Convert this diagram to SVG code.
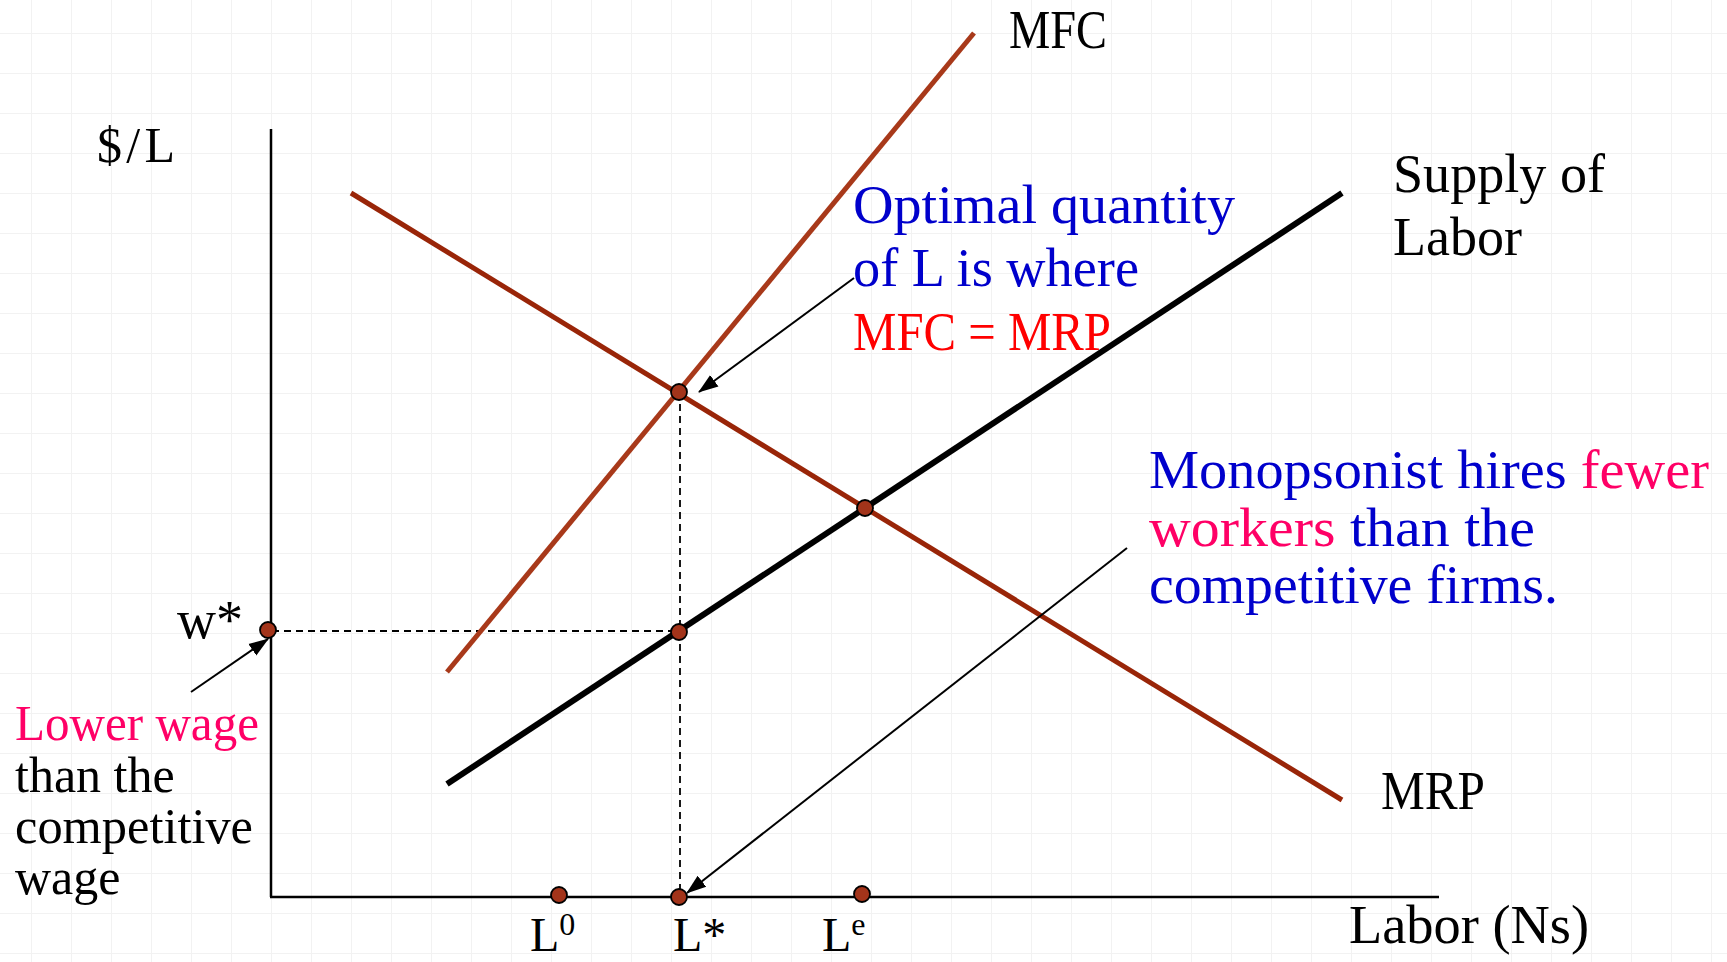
<svg xmlns="http://www.w3.org/2000/svg" width="1727" height="962" viewBox="0 0 1727 962">
  <defs>
    <pattern id="grid" patternUnits="userSpaceOnUse" x="31" y="33" width="40" height="40">
      <path d="M0 0H40M0 0V40" fill="none" stroke="#f2f2f2" stroke-width="2"/>
    </pattern>
    <marker id="arrow" markerUnits="userSpaceOnUse" markerWidth="20" markerHeight="16" viewBox="0 0 20 16" refX="19" refY="8" orient="auto">
      <path d="M0 1L20 8L0 15Z" fill="#000"/>
    </marker>
    <style>
      text { font-family: "Liberation Serif", "Times New Roman", serif; }
      .lbl { font-size: 54px; fill: #000; }
      .small { font-size: 50px; fill: #000; }
      .xl { font-size: 48px; fill: #000; }
      .sup { font-size: 32px; }
      .blue { fill: #0000cc; }
      .pink { fill: #ff0066; }
      .red { fill: #ff0000; }
      .axis { stroke: #000; stroke-width: 2.5; fill: none; }
      .mfc { stroke: #a8391a; stroke-width: 5; fill: none; }
      .mrp { stroke: #992508; stroke-width: 5; fill: none; }
      .supply { stroke: #000; stroke-width: 6; fill: none; }
      .dash { stroke: #000; stroke-width: 1.8; stroke-dasharray: 7 5; fill: none; }
      .conn { stroke: #000; stroke-width: 2; fill: none; marker-end: url(#arrow); }
      .dot { fill: #a3341a; stroke: #000; stroke-width: 1.8; }
    </style>
  </defs>

  <rect width="1727" height="962" fill="#fff"/>
  <rect width="1727" height="962" fill="url(#grid)"/>

  <g id="axes">
    <line class="axis" x1="271" y1="129" x2="271" y2="897"/>
    <line class="axis" x1="270" y1="897" x2="1439" y2="897"/>
    <text class="small" x="97" y="162" textLength="78">$/L</text>
    <text class="lbl" x="1349" y="943" textLength="240" lengthAdjust="spacingAndGlyphs">Labor (Ns)</text>
  </g>

  <g id="guides">
    <line class="dash" x1="272" y1="631" x2="679" y2="631"/>
    <line class="dash" x1="680" y1="392" x2="680" y2="897"/>
  </g>

  <g id="mfc-curve">
    <line class="mfc" x1="447" y1="672" x2="974" y2="33"/>
    <text class="lbl" x="1009" y="48" textLength="98" lengthAdjust="spacingAndGlyphs">MFC</text>
  </g>

  <g id="mrp-curve">
    <line class="mrp" x1="351" y1="193" x2="1342" y2="800"/>
    <text class="lbl" x="1381" y="809" textLength="104" lengthAdjust="spacingAndGlyphs">MRP</text>
  </g>

  <g id="supply-curve">
    <line class="supply" x1="447" y1="784" x2="1342" y2="193"/>
    <text class="lbl" x="1393" y="192" textLength="212" lengthAdjust="spacingAndGlyphs">Supply of</text>
    <text class="lbl" x="1393" y="255">Labor</text>
  </g>

  <g id="connectors">
    <line class="conn" x1="854" y1="278" x2="699" y2="392"/>
    <line class="conn" x1="1127" y1="548" x2="687" y2="893"/>
    <line class="conn" x1="191" y1="692" x2="268" y2="639"/>
  </g>

  <g id="points">
    <circle class="dot" cx="679" cy="392" r="8"/>
    <circle class="dot" cx="865" cy="508" r="8"/>
    <circle class="dot" cx="679" cy="632" r="8"/>
    <circle class="dot" cx="268" cy="630" r="8"/>
    <circle class="dot" cx="559" cy="895" r="8"/>
    <circle class="dot" cx="679" cy="897" r="8"/>
    <circle class="dot" cx="862" cy="894" r="8"/>
  </g>

  <g id="x-labels">
    <text class="xl" x="530" y="951">L<tspan class="sup" dy="-16">0</tspan></text>
    <text class="xl" x="673" y="951">L*</text>
    <text class="xl" x="822" y="951">L<tspan class="sup" dy="-16">e</tspan></text>
    <text class="lbl" x="177" y="638">w*</text>
  </g>

  <g id="note-optimal">
    <text class="lbl blue" x="853" y="223" textLength="382" lengthAdjust="spacingAndGlyphs">Optimal quantity</text>
    <text class="lbl blue" x="853" y="286" textLength="286" lengthAdjust="spacingAndGlyphs">of L is where</text>
    <text class="lbl red" x="853" y="350" textLength="258" lengthAdjust="spacingAndGlyphs">MFC = MRP</text>
  </g>

  <g id="note-monopsonist">
    <text class="lbl blue" x="1149" y="488" textLength="560" lengthAdjust="spacingAndGlyphs">Monopsonist hires <tspan class="pink">fewer</tspan></text>
    <text class="lbl pink" x="1149" y="546" textLength="386" lengthAdjust="spacingAndGlyphs">workers <tspan class="blue">than the</tspan></text>
    <text class="lbl blue" x="1149" y="603" textLength="409" lengthAdjust="spacingAndGlyphs">competitive firms.</text>
  </g>

  <g id="note-wage">
    <text class="small pink" x="15" y="740" textLength="244" lengthAdjust="spacingAndGlyphs">Lower wage</text>
    <text class="small" x="15" y="792">than the</text>
    <text class="small" x="15" y="843" textLength="238" lengthAdjust="spacingAndGlyphs">competitive</text>
    <text class="small" x="15" y="894">wage</text>
  </g>
</svg>
